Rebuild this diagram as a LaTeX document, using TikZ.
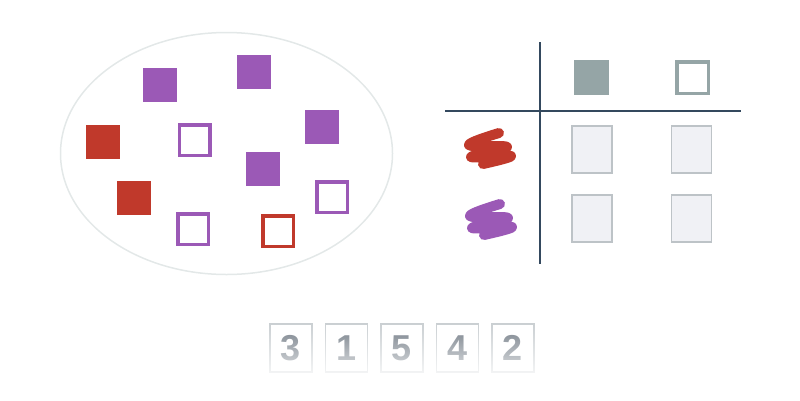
\documentclass[tikz,border=0pt]{standalone}
\usepackage{fontspec}
\setmainfont{Liberation Sans}
\usetikzlibrary{positioning}
\usetikzlibrary{shapes.geometric}
\usetikzlibrary{fadings}

\definecolor{amethyst}{HTML}{9B59B6}
\definecolor{brick}{HTML}{C0392B}
\definecolor{slate}{HTML}{95A5A6}
\definecolor{ink}{HTML}{34495E}
\definecolor{cellfill}{HTML}{F0F1F5}
\definecolor{cellline}{HTML}{BDC3C7}
\definecolor{ring}{HTML}{E3E8E8}
\definecolor{digit}{HTML}{737C86}

\tikzfading[name=veil, top color=transparent!100, bottom color=transparent!20]

\begin{document}
\begin{tikzpicture}[x=1pt,y=-1pt,semithick,node distance=12pt]
			\tikzstyle{full}=[rectangle,inner sep=0pt,minimum size=34pt]
			\tikzstyle{hollow}=[rectangle,inner sep=0pt,minimum size=30.5pt,line width=3.5pt,fill=white]
			\tikzstyle{cell}=[rectangle,inner sep=0pt,minimum width=40pt,minimum height=47pt,
				fill=cellfill,draw=cellline,line width=1.5pt]
			\tikzstyle{rank}=[rectangle,inner sep=0pt,minimum width=42pt,minimum height=48pt,
				draw=cellline!80,line width=1.5pt,text=digit,font=\fontsize{36}{36}\selectfont\bfseries]
			\tikzstyle{scribble}=[line width=10pt,line cap=round,line join=round]
			\tikzstyle{axis}=[draw=ink,line width=2pt]
			
			\useasboundingbox (0,0) rectangle (800,400);
			
			% the bag of squares
			\node[ellipse,draw=ring,line width=1.5pt,minimum width=332pt,minimum height=242pt,
				inner sep=0pt] (bag) at (226.5,153.5) {};
			\node[full,fill=amethyst] (P_1) at (159.5,84.5)  {};
			\node[full,fill=amethyst] (P_2) at (253.5,71.5)  {};
			\node[full,fill=amethyst] (P_3) at (321.5,126.5) {};
			\node[full,fill=amethyst] (P_4) at (262.5,168.5) {};
			\node[full,fill=brick]    (R_1) at (103,142)     {};
			\node[full,fill=brick]    (R_2) at (134,197.5)   {};
			\node[hollow,draw=amethyst] (Q_1) at (194.5,140) {};
			\node[hollow,draw=amethyst] (Q_2) at (332,197)   {};
			\node[hollow,draw=amethyst] (Q_3) at (193,229)   {};
			\node[hollow,draw=brick]    (Q_4) at (278,231)   {};
			
			% the table
			\coordinate (V_top) at (540,42);
			\coordinate (V_bot) at (540,264);
			\coordinate (H_lft) at (445,111);
			\coordinate (H_rgt) at (741,111);
			\draw[axis] (V_top) -- (V_bot);
			\draw[axis] (H_lft) -- (H_rgt);
			
			\node[full,fill=slate,minimum size=35pt] (C_full)   at (591.5,77.5) {};
			\node[hollow,draw=slate,minimum size=31.5pt] (C_hollow) at (692.5,77.5) {};
			
			\draw[scribble,brick] plot[smooth,tension=0.7] coordinates
				{(499,133) (469,145) (507,147) (471,157) (511,156) (483,164)};
			\draw[scribble,amethyst] plot[smooth,tension=0.7] coordinates
				{(500,204) (470,216) (508,218) (472,228) (512,227) (484,235)};
			
			\node[cell] (T_11) at (592,149.5)   {};
			\node[cell] (T_12) at (691.5,149.5) {};
			\node[cell] (T_21) at (592,218.5)   {};
			\node[cell] (T_22) at (691.5,218.5) {};
			
			% the ranking
			\node[rank]                    (N_1) at (291,348) {3};
			\node[rank] [right=12pt of N_1] (N_2) {1};
			\node[rank] [right=12pt of N_2] (N_3) {5};
			\node[rank] [right=12pt of N_3] (N_4) {4};
			\node[rank] [right=12pt of N_4] (N_5) {2};
			% fade them out downwards
			\fill[white,path fading=veil] (N_1.north west) ++(-2,-1) rectangle ([shift={(2,2)}]N_5.south east);
			\end{tikzpicture}
\end{document}
